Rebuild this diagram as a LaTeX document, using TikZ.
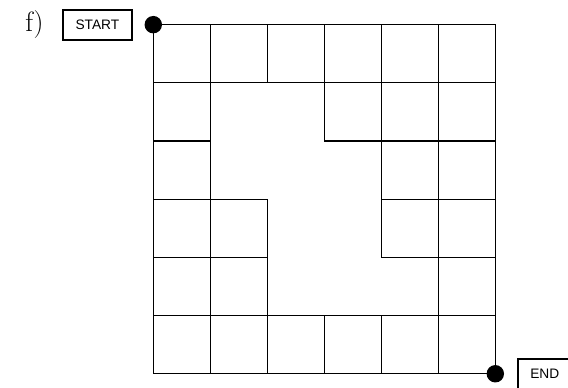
\documentclass[tikz,border=0pt]{standalone}
\usepackage{fontspec}
\newfontfamily\boxfont{Liberation Sans}
\usetikzlibrary{positioning}
\tikzset{
  cell/.style={line width=0.9pt,draw=black},
  dot/.style={circle,fill=black,inner sep=0pt,minimum size=0.46cm},
  tag/.style={draw,line width=1.5pt,font=\boxfont\fontsize{10.3}{12}\selectfont,minimum height=22.5pt,inner xsep=9.5pt}
}
\begin{document}
\begin{tikzpicture}[x=1.504cm,y=1.535cm]
\clip (-2.689,0.424) rectangle (7.275,-6.242);
% maze cells, column/row counted from the top left
\foreach \c/\r in {0/0,1/0,2/0,3/0,4/0,5/0,
                   0/1,3/1,4/1,5/1,
                   0/2,4/2,5/2,
                   0/3,1/3,4/3,5/3,
                   0/4,1/4,5/4,
                   0/5,1/5,2/5,3/5,4/5,5/5}
  \draw[cell] (\c,-\r) rectangle ++(1,-1);
\node[dot] (in) at (0,0) {};
\node[dot] (out) at (6,-6) {};
\node[tag,left=0.3cm of in] (start) {START};
\node[tag,right=0.325cm of out] (finish) {END};
\node[font=\fontsize{21}{24}\selectfont,inner sep=0pt,left=0.476cm of start] (lbl) {f)};
\end{tikzpicture}
\end{document}
